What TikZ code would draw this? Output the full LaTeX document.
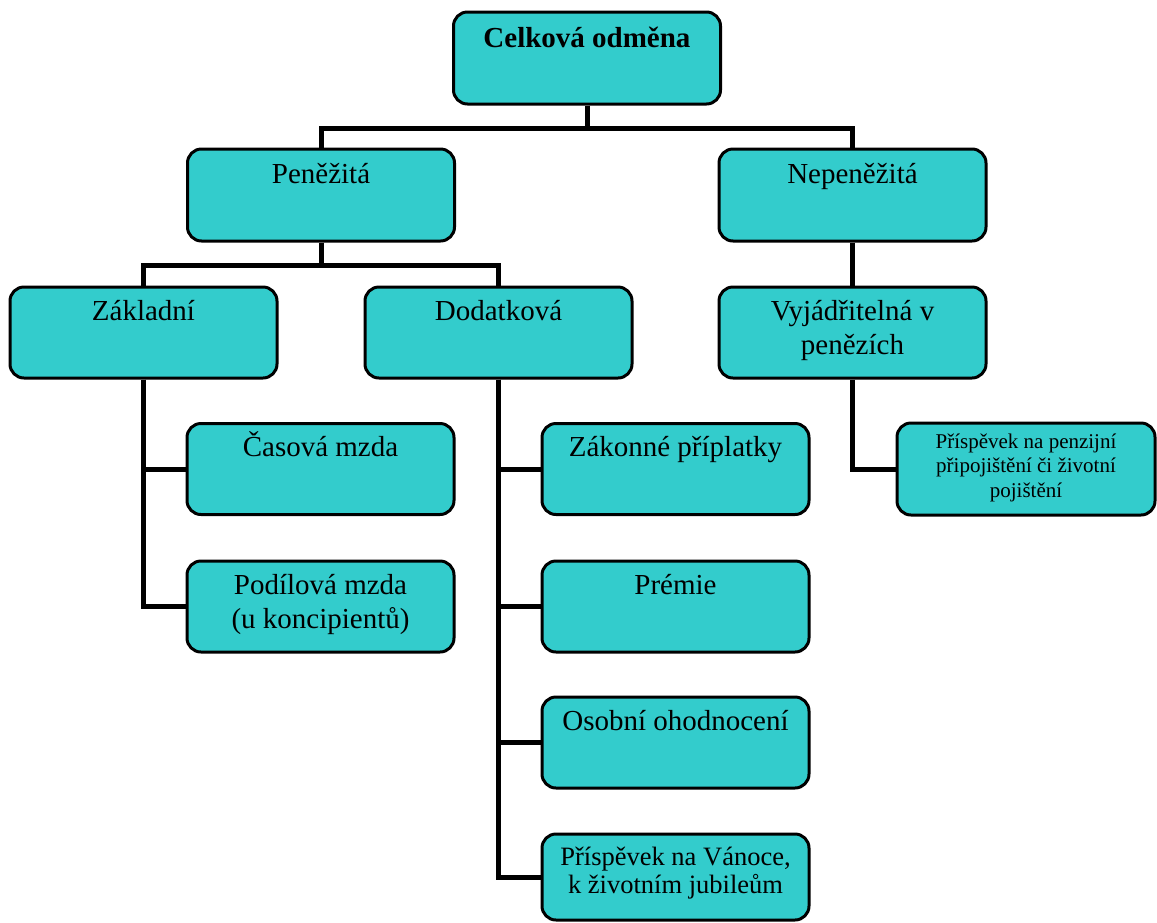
\documentclass[tikz,border=0pt]{standalone}
\usepackage{fontspec}
\setmainfont{Liberation Serif}
\definecolor{tq}{HTML}{33CCCC}
\newcommand{\bt}[4]{\parbox[t][#1][t]{#2}{\centering\rule{0pt}{#3}#4}}
\begin{document}
\begin{tikzpicture}[x=1pt,y=-1pt,
  box/.style={draw=black, line width=3pt, fill=tq, rounded corners=14pt,
    inner sep=5pt, minimum width=267pt, minimum height=91pt,
    font=\fontsize{29}{34}\selectfont},
  conn/.style={line width=5pt}]
\useasboundingbox (0,0) rectangle (1157,922);
% level 0
\node[box] (celk) at (587,58) {\bt{82pt}{256pt}{30pt}{\bfseries Celková odměna}};
% level 1
\node[box] (pen) at (321,195) {\bt{82pt}{257pt}{29pt}{Peněžitá}};
\node[box] (nepen) at (852.5,195) {\bt{82pt}{257pt}{29pt}{Nepeněžitá}};
% level 2
\node[box] (zakl) at (143.5,332.5) {\bt{81pt}{257pt}{28pt}{Základní}};
\node[box] (dod) at (498.5,332.5) {\bt{81pt}{257pt}{28pt}{Dodatková}};
\node[box] (vyj) at (852.5,332.5) {\bt{81pt}{257pt}{28pt}{Vyjádřitelná v\\penězích}};
% level 3
\node[box] (cas) at (320.5,469) {\bt{81pt}{257pt}{28pt}{Časová mzda}};
\node[box] (pod) at (320.5,606.5) {\bt{81pt}{257pt}{28pt}{Podílová mzda\\(u koncipientů)}};
\node[box] (zak) at (675.5,469) {\bt{81pt}{257pt}{28pt}{Zákonné příplatky}};
\node[box] (prem) at (675.5,606.5) {\bt{81pt}{257pt}{28pt}{Prémie}};
\node[box] (osob) at (675.5,742.5) {\bt{81pt}{257pt}{28pt}{Osobní ohodnocení}};
\node[box, minimum height=86pt, font=\fontsize{26.5}{28}\selectfont] (van) at (675.5,877)
  {\bt{76pt}{257pt}{26pt}{Příspěvek na Vánoce,\\k životním jubileům}};
\node[box, minimum width=258pt, minimum height=92pt, font=\fontsize{21}{24.5}\selectfont] (penz) at (1026,469)
  {\bt{82pt}{248pt}{20pt}{Příspěvek na penzijní\\připojištění či životní\\pojištění}};
% connectors
\draw[conn] (celk.south) -- ++(0,23) -| (pen.north);
\draw[conn] (celk.south) -- ++(0,23) -| (nepen.north);
\draw[conn] (pen.south) -- ++(0,23) -| (zakl.north);
\draw[conn] (pen.south) -- ++(0,23) -| (dod.north);
\draw[conn] (nepen.south) -- (vyj.north);
\draw[conn] (zakl.south) |- (cas.west);
\draw[conn] (zakl.south) |- (pod.west);
\draw[conn] (dod.south) |- (zak.west);
\draw[conn] (dod.south) |- (prem.west);
\draw[conn] (dod.south) |- (osob.west);
\draw[conn] (dod.south) |- (van.west);
\draw[conn] (vyj.south) |- (penz.west);
\end{tikzpicture}
\end{document}
